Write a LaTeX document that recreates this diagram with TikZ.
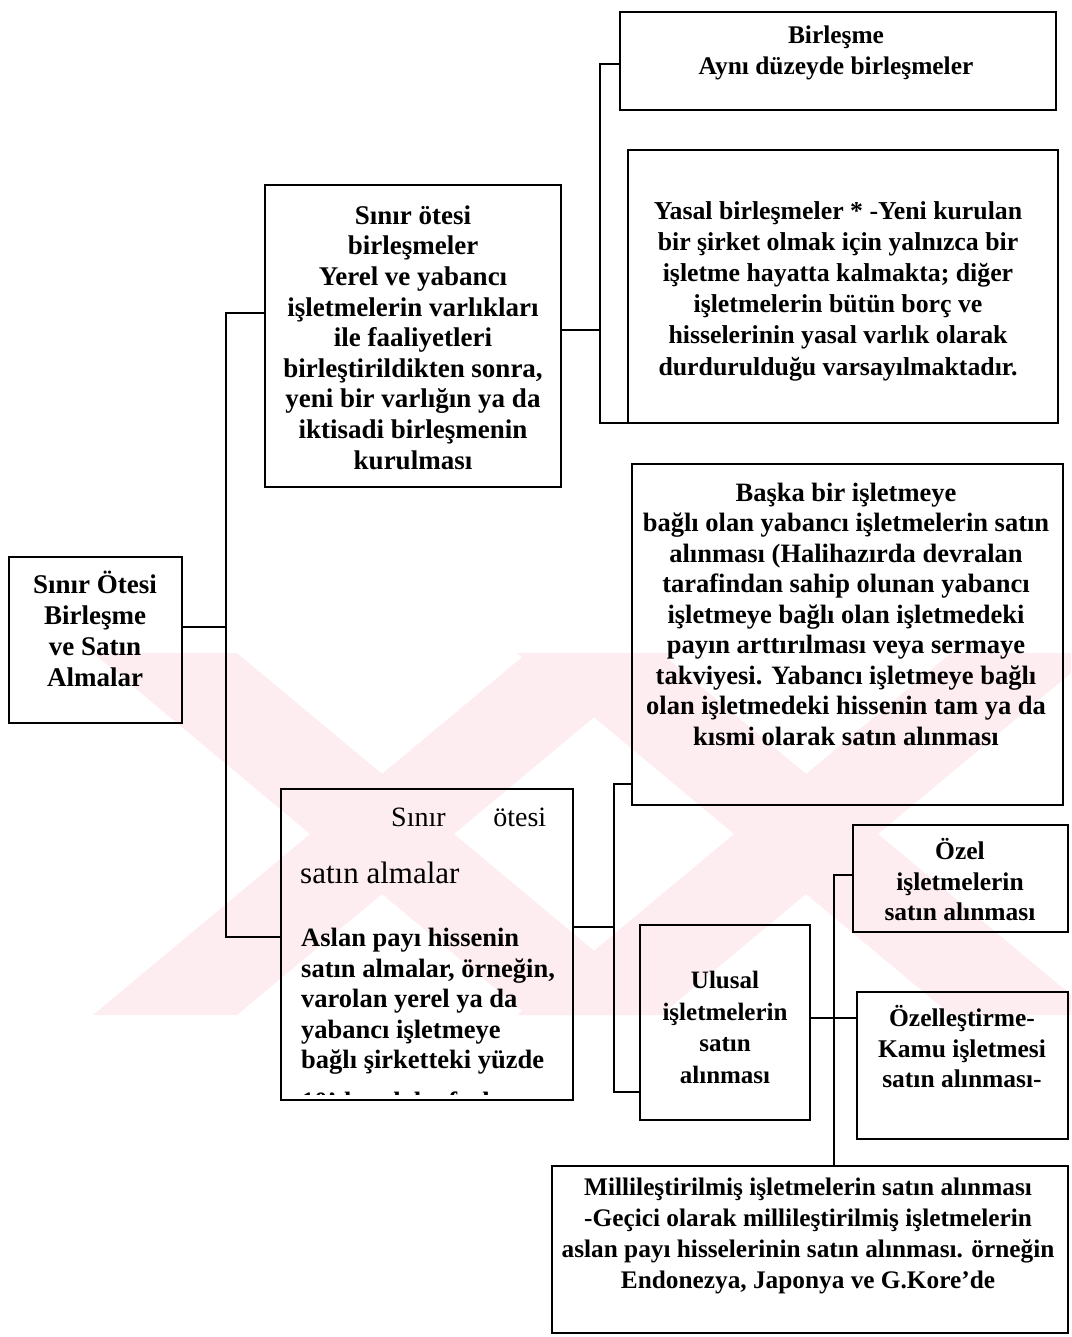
\documentclass[tikz,border=0pt]{standalone}
\usepackage{fontspec}
\setmainfont{Liberation Serif}
\usetikzlibrary{calc}
\definecolor{wm}{RGB}{253,236,240}
\begin{document}
\begin{tikzpicture}[x=1pt,y=-1pt,
  box/.style={draw, line width=2.6pt, inner sep=0pt, outer sep=0pt, anchor=north west},
  link/.style={line width=2.6pt},
  txt/.style={align=center, inner sep=0pt, font=\bfseries\fontsize{26.5}{30.5}\selectfont},
  plain/.style={inner sep=0pt, font=\fontsize{28}{30}\selectfont},
]
\useasboundingbox (0,0) rectangle (1071,1337);

% faint background emblem: two pairs of crossed bands
\begin{scope}
  \clip (0,653) rectangle (1071,1015);
  \fill[wm] (93,653) -- (237,653) -- (671,1015) -- (527,1015) -- cycle;
  \fill[wm] (527,653) -- (671,653) -- (237,1015) -- (93,1015) -- cycle;
  \fill[wm] (517,653) -- (661,653) -- (1095,1015) -- (951,1015) -- cycle;
  \fill[wm] (951,653) -- (1095,653) -- (661,1015) -- (517,1015) -- cycle;
\end{scope}

% boxes
\node[box, minimum width=173pt, minimum height=166pt] (root) at (9,557) {};
\node[box, minimum width=296pt, minimum height=302pt] (b2) at (265,185) {};
\node[box, minimum width=436pt, minimum height=98pt]  (b3) at (620,12) {};
\node[box, minimum width=430pt, minimum height=273pt] (b4) at (628,150) {};
\node[box, minimum width=292pt, minimum height=311pt] (b5) at (281,789) {};
\node[box, minimum width=431pt, minimum height=341pt] (b6) at (632,464) {};
\node[box, minimum width=170pt, minimum height=195pt] (b7) at (640,925) {};
\node[box, minimum width=215pt, minimum height=107pt] (b8) at (853,825) {};
\node[box, minimum width=211pt, minimum height=147pt] (b9) at (857,992) {};
\node[box, minimum width=516pt, minimum height=167pt] (b10) at (552,1166) {};

% texts
\node[txt, font=\bfseries\fontsize{27}{31}\selectfont] (rootT) at (95,629)
  {Sınır Ötesi\\Birleşme\\ve Satın\\Almalar};
\node[txt, font=\bfseries\fontsize{27}{30.6}\selectfont] (b2T) at (413,337.5)
  {Sınır ötesi\\birleşmeler\\Yerel ve yabancı\\işletmelerin varlıkları\\ile faaliyetleri\\birleştirildikten sonra,\\yeni bir varlığın ya da\\iktisadi birleşmenin\\kurulması};
\node[txt, font=\bfseries\fontsize{25.4}{31}\selectfont] (b3T) at (836,52.5)
  {Birleşme\\Aynı düzeyde birleşmeler};
\node[txt, font=\bfseries\fontsize{25.8}{31.2}\selectfont] (b4T) at (838,291)
  {Yasal birleşmeler * -Yeni kurulan\\bir şirket olmak için yalnızca bir\\işletme hayatta kalmakta; diğer\\işletmelerin bütün borç ve\\hisselerinin yasal varlık olarak\\durdurulduğu varsayılmaktadır.};
\node[txt] (b6T) at (846,614)
  {Başka bir işletmeye\\bağlı olan yabancı işletmelerin satın\\alınması (Halihazırda devralan\\tarafindan sahip olunan yabancı\\işletmeye bağlı olan işletmedeki\\payın arttırılması veya sermaye\\takviyesi. Yabancı işletmeye bağlı\\olan işletmedeki hissenin tam ya da\\kısmi olarak satın alınması};
\node[plain, anchor=base west] (b5h1) at (391,826) {\makebox[155pt][s]{Sınır ötesi}};
\node[plain, font=\fontsize{31}{32}\selectfont, anchor=base west] (b5h2) at (300,883) {satın almalar};
\node[txt, align=left, anchor=west] (b5T) at (301,1001.5)
  {Aslan payı hissenin\\satın almalar, örneğin,\\varolan yerel ya da\\yabancı işletmeye\\bağlı şirketteki yüzde};
\begin{scope}
  \clip (283,1080) rectangle (571,1094);
  \node[txt, anchor=base west] (b5cut) at (301,1110) {10’dan daha fazla};
\end{scope}
\node[txt, font=\bfseries\fontsize{25}{31.7}\selectfont] (b7T) at (725,1027.5)
  {Ulusal\\işletmelerin\\satın\\alınması};
\node[txt, font=\bfseries\fontsize{25.5}{30.5}\selectfont] (b8T) at (960,880)
  {Özel\\işletmelerin\\satın alınması};
\node[txt, font=\bfseries\fontsize{25.5}{30.5}\selectfont] (b9T) at (962,1047)
  {Özelleştirme-\\Kamu işletmesi\\satın alınması-};
\node[txt, font=\bfseries\fontsize{25.3}{31}\selectfont] (b10T) at (808,1236)
  {Millileştirilmiş işletmelerin satın alınması\\-Geçici olarak millileştirilmiş işletmelerin\\aslan payı hisselerinin satın alınması. örneğin\\Endonezya, Japonya ve G.Kore’de};

% connector junctions
\coordinate (tTop) at (226,313);
\coordinate (tMid) at (226,627);
\coordinate (tBot) at (226,937);
\coordinate (uTop) at (600,64);
\coordinate (uMid) at (600,330);
\coordinate (uBot) at (600,423);
\coordinate (vTop) at (614,784);
\coordinate (vMid) at (614,927);
\coordinate (vBot) at (614,1092);
\coordinate (wTop) at (834,875);
\coordinate (wMid) at (834,1018);

% connectors
\draw[link] (root.east |- tMid) -- (tMid);
\draw[link] (b2.west |- tTop) -- (tTop) -- (tBot) -- (b5.west |- tBot);
\draw[link] (b2.east |- uMid) -- (uMid);
\draw[link] (b3.west |- uTop) -- (uTop) -- (uBot) -- (b4.west |- uBot);
\draw[link] (b5.east |- vMid) -- (vMid);
\draw[link] (b6.west |- vTop) -- (vTop) -- (vBot) -- (b7.west |- vBot);
\draw[link] (b8.west |- wTop) -- (wTop) -- (wTop |- b10.north);
\draw[link] (b7.east |- wMid) -- (b9.west |- wMid);
\end{tikzpicture}
\end{document}
